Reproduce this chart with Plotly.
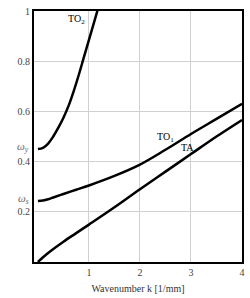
import plotly.graph_objects as go

# Data
k_to2 = [0, 0.1, 0.2, 0.3, 0.4, 0.5, 0.6, 0.7, 0.8, 0.9, 1.0, 1.1, 1.2]
w_to2 = [0.45, 0.455, 0.472, 0.500, 0.535, 0.575, 0.622, 0.680, 0.745, 0.815, 0.885, 0.955, 1.025]

k_to1 = [0, 0.1, 0.2, 0.3, 0.5, 0.75, 1.0, 1.5, 2.0, 2.5, 3.0, 3.5, 4.0]
w_to1 = [0.243, 0.245, 0.250, 0.257, 0.271, 0.288, 0.305, 0.343, 0.388, 0.447, 0.510, 0.570, 0.630]

k_ta = [0, 0.1, 0.25, 0.5, 0.75, 1.0, 1.5, 2.0, 2.5, 3.0, 3.5, 4.0]
w_ta = [0, 0.019, 0.044, 0.081, 0.115, 0.149, 0.218, 0.29, 0.36, 0.43, 0.50, 0.566]

x_ticks = [1, 2, 3, 4]
y_ticks = [0.2, 0.4, 0.6, 0.8, 1]
y_ticktext = ["0.2", "0.4", "0.6", "0.8", "1"]

special_vals = [0.45, 0.243]
special_text = ["<i>ω<sub>y</sub></i>", "<i>ω<sub>s</sub></i>"]

curve_labels = ["TO<sub>2</sub>", "TO<sub>1</sub>", "TA"]
label_pos_k = [0.75, 2.5, 2.93]
label_pos_w = [0.965, 0.497, 0.456]

FONT = "Liberation Serif, Times New Roman, serif"

fig = go.Figure()
for kx, wy in [(k_to2, w_to2), (k_to1, w_to1), (k_ta, w_ta)]:
    fig.add_trace(go.Scatter(x=kx, y=wy, mode="lines",
                             line=dict(color="black", width=2.5, shape="spline", smoothing=1.0),
                             showlegend=False, hoverinfo="skip", cliponaxis=True))

for t, xv, yv in zip(curve_labels, label_pos_k, label_pos_w):
    fig.add_annotation(x=xv, y=yv, text=t, showarrow=False,
                       font=dict(family=FONT, size=10, color="black"))

for t, yv in zip(special_text, special_vals):
    fig.add_annotation(xref="paper", x=0, y=yv, text=t, showarrow=False,
                       xanchor="right", xshift=-3, yshift=2,
                       font=dict(family=FONT, size=11, color="#666"))

fig.update_layout(
    width=250, height=298,
    margin=dict(l=34, r=5, t=6, b=33),
    paper_bgcolor="white", plot_bgcolor="white",
    font=dict(family=FONT, size=10, color="#444"),
    xaxis=dict(range=[-0.077, 4.0], tickvals=x_ticks, showgrid=True,
               gridcolor="#d0d0d0", gridwidth=1, zeroline=False,
               showline=True, linecolor="black", linewidth=2, mirror=True,
               ticks="", tickfont=dict(size=10, color="#444"),
               title=dict(text="Wavenumber k [1/mm]", font=dict(size=10, color="#333"), standoff=8)),
    yaxis=dict(range=[0, 1.0], tickvals=y_ticks, ticktext=y_ticktext, showgrid=True,
               gridcolor="#d0d0d0", gridwidth=1, zeroline=False,
               showline=True, linecolor="black", linewidth=2, mirror=True,
               ticks="", tickfont=dict(size=10, color="#444")),
)

fig.write_html("out.html", config={"displayModeBar": False},
               post_script="document.body.style.margin='0px';document.body.style.overflow='hidden';")
